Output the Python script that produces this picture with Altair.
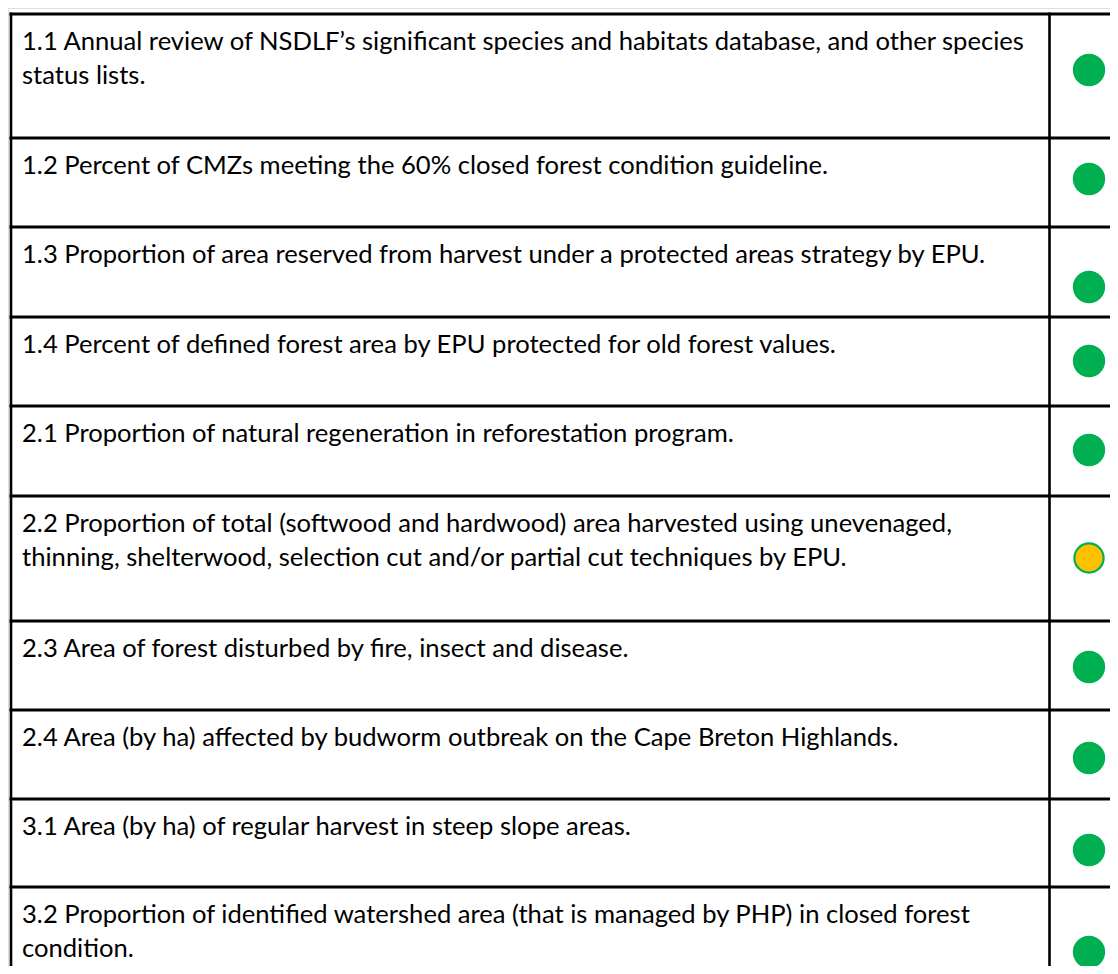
import altair as alt
import pandas as pd

# ---- data ----
row_ids = ["1.1", "1.2", "1.3", "1.4", "2.1", "2.2", "2.3", "2.4", "3.1", "3.2"]
row_text = [
    ["1.1 Annual review of NSDLF’s significant species and habitats database, and other species",
     "status lists."],
    ["1.2 Percent of CMZs meeting the 60% closed forest condition guideline."],
    ["1.3 Proportion of area reserved from harvest under a protected areas strategy by EPU."],
    ["1.4 Percent of defined forest area by EPU protected for old forest values."],
    ["2.1 Proportion of natural regeneration in reforestation program."],
    ["2.2 Proportion of total (softwood and hardwood) area harvested using unevenaged,",
     "thinning, shelterwood, selection cut and/or partial cut techniques by EPU."],
    ["2.3 Area of forest disturbed by fire, insect and disease."],
    ["2.4 Area (by ha) affected by budworm outbreak on the Cape Breton Highlands."],
    ["3.1 Area (by ha) of regular harvest in steep slope areas."],
    ["3.2 Proportion of identified watershed area (that is managed by PHP) in closed forest",
     "condition."],
]
row_status = ["green", "green", "green", "green", "green", "amber", "green", "green", "green", "green"]
row_heights = [124, 89, 90, 89, 90, 125, 89, 89, 88, 100]
dot_offsets = [56, 41, 60, 44, 44, 62, 46, 48, 51, 65]

# ---- layout (page pixel space) ----
W, H = 1110, 966          # chart ends here (page has an 8px margin)
TOP = 14
LEFT = 11
DIV = 1049.5
DOT_X = 1089
TEXT_X = 22
FIRST_BASE = 36
LINE_GAP = 34

tops = []
t = TOP
for h in row_heights:
    tops.append(t)
    t += h

hlines = pd.DataFrame({"x": [LEFT - 1.5] * len(tops), "x2": [W] * len(tops), "y": tops})
vlines = pd.DataFrame({"x": [LEFT, DIV], "y": [TOP - 1.5, TOP - 1.5], "y2": [H, H]})

txt_rows = []
for top, lines in zip(tops, row_text):
    for i, ln in enumerate(lines):
        txt_rows.append({"x": TEXT_X, "y": top + FIRST_BASE + i * LINE_GAP, "t": ln})
texts = pd.DataFrame(txt_rows)

dots = pd.DataFrame({
    "id": row_ids,
    "x": [DOT_X] * len(row_ids),
    "y": [tp + o for tp, o in zip(tops, dot_offsets)],
    "status": row_status,
})

xs = alt.Scale(domain=[8, W], range=[0, W - 8], nice=False, zero=False)
ys = alt.Scale(domain=[8, H], range=[0, H - 8], nice=False, zero=False)
X = lambda f: alt.X(f, type="quantitative", scale=xs, axis=None)
Y = lambda f: alt.Y(f, type="quantitative", scale=ys, axis=None)

h_rule = alt.Chart(hlines).mark_rule(color="#000000", strokeWidth=3).encode(
    x=X("x"), x2="x2", y=Y("y"))
v_rule = alt.Chart(vlines).mark_rule(color="#000000", strokeWidth=2.6).encode(
    x=X("x"), y=Y("y"), y2="y2")

text = alt.Chart(texts).mark_text(
    align="left", baseline="alphabetic", font="Lato", fontSize=25.6, color="#000000"
).encode(x=X("x"), y=Y("y"), text="t:N")

green_dots = alt.Chart(dots[dots.status == "green"]).mark_point(
    shape="circle", filled=True, size=1046, color="#00B050", opacity=1, strokeWidth=0
).encode(x=X("x"), y=Y("y"))
amber_dots = alt.Chart(dots[dots.status == "amber"]).mark_point(
    shape="circle", filled=True, size=855, fill="#FFC000", stroke="#00B050",
    strokeWidth=2.2, opacity=1
).encode(x=X("x"), y=Y("y"))

chart = alt.layer(h_rule, v_rule, text, green_dots, amber_dots).properties(
    width=W - 8, height=H - 8, padding=0,
    autosize=alt.AutoSizeParams(type="none"),
).configure_view(stroke="transparent", strokeWidth=0).configure(background="#ffffff")

chart.save("out.html", embed_options={"renderer": "svg", "actions": False})
